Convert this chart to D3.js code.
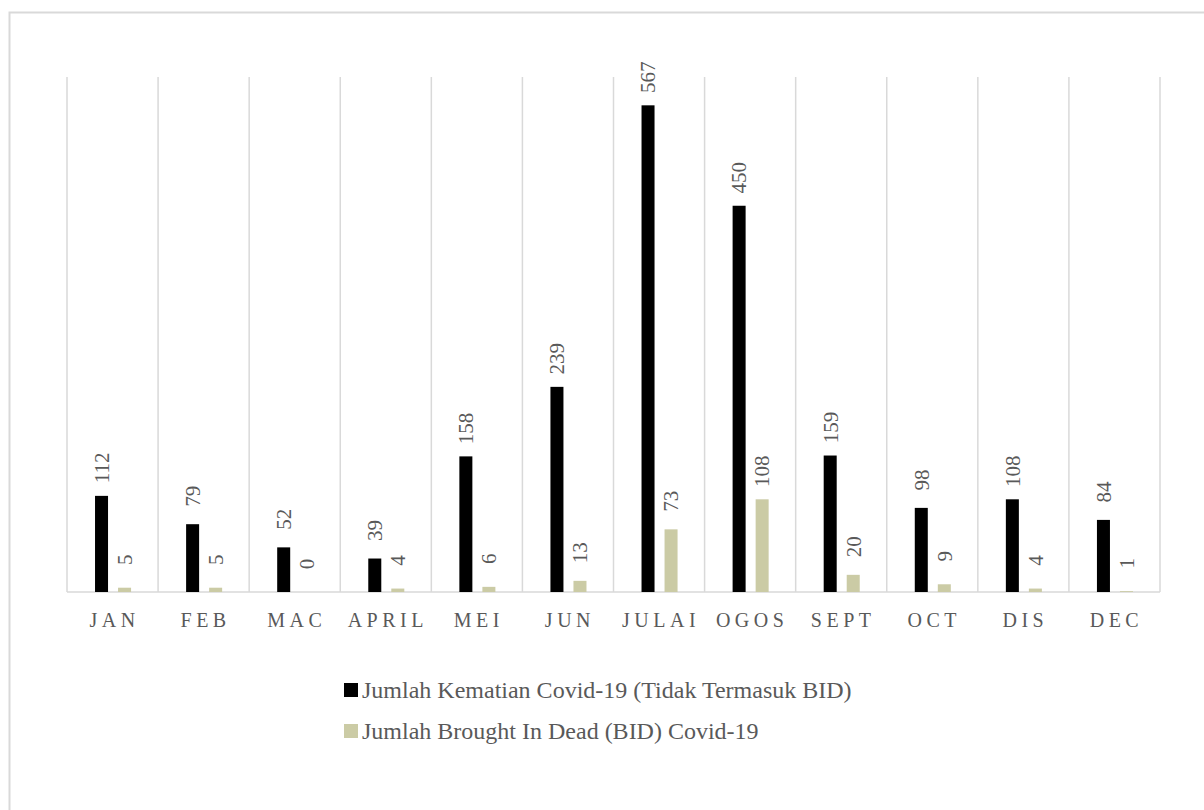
<!DOCTYPE html>
<html><head><meta charset="utf-8">
<script src="https://cdn.jsdelivr.net/npm/d3@7"></script>
<style>body{margin:0;background:#fff}svg{display:block}</style>
</head><body>
<script>
const months = ["JAN","FEB","MAC","APRIL","MEI","JUN","JULAI","OGOS","SEPT","OCT","DIS","DEC"];
const kematian = [112,79,52,39,158,239,567,450,159,98,108,84];
const bid = [5,5,0,4,6,13,73,108,20,9,4,1];
const seriesNames = ["Jumlah Kematian Covid-19 (Tidak Termasuk BID)","Jumlah Brought In Dead (BID) Covid-19"];
const colors = ["#000000","#cbcba5"];

const W=1204,H=810;
const svg=d3.select("body").append("svg").attr("width",W).attr("height",H);
const font="Liberation Serif";
svg.append("rect").attr("x",9.5).attr("y",12.5).attr("width",1250).attr("height",900)
  .attr("fill","none").attr("stroke","#d9d9d9").attr("stroke-width",2);

const x=d3.scaleBand().domain(months).range([67,1160]).padding(0);
const bw=x.bandwidth();
const inner=d3.scaleBand().domain([0,1]).range([bw*28/91,bw*64/91]).paddingInner(0.435).paddingOuter(0);

const y=d3.scaleLinear().domain([0,600]).range([592,77]);

const edges=months.map(m=>x(m)).concat([x.range()[1]]);
svg.append("g").selectAll("line").data(edges).join("line")
  .attr("x1",d=>d).attr("x2",d=>d).attr("y1",y(600)).attr("y2",y(0))
  .attr("stroke","#d9d9d9").attr("stroke-width",1.5);
svg.append("line").attr("x1",x.range()[0]).attr("x2",x.range()[1]).attr("y1",y(0)).attr("y2",y(0))
  .attr("stroke","#d9d9d9").attr("stroke-width",1.5);

[kematian,bid].forEach((vals,si)=>{
  const g=svg.append("g");
  g.selectAll("rect").data(vals).join("rect")
    .attr("x",(d,i)=>x(months[i])+inner(si))
    .attr("width",inner.bandwidth())
    .attr("y",d=>y(d)).attr("height",d=>y(0)-y(d))
    .attr("fill",colors[si]);
  g.selectAll("text").data(vals).join("text")
    .attr("transform",(d,i)=>{
      const cx=x(months[i])+inner(si)+inner.bandwidth()/2;
      const cy=y(d)-28;
      return `translate(${cx},${cy}) rotate(-90)`;
    })
    .attr("text-anchor","middle").attr("dy","0.35em")
    .attr("font-family",font).attr("font-size",21).attr("fill","#595959")
    .text(d=>d);
});

svg.append("g").selectAll("text").data(months).join("text")
  .attr("x",d=>x(d)+x.bandwidth()/2+2).attr("y",627)
  .attr("text-anchor","middle").attr("font-family",font).attr("font-size",20)
  .attr("letter-spacing","4.5px").attr("fill","#595959").text(d=>d);

const lg=svg.append("g");
seriesNames.forEach((n,i)=>{
  const ly=690+i*41;
  lg.append("rect").attr("x",344).attr("y",ly-7).attr("width",14).attr("height",14).attr("fill",colors[i]);
  lg.append("text").attr("x",362).attr("y",ly).attr("dy","0.33em")
    .attr("font-family",font).attr("font-size",24).attr("fill","#595959").text(n);
});
</script>
</body></html>
